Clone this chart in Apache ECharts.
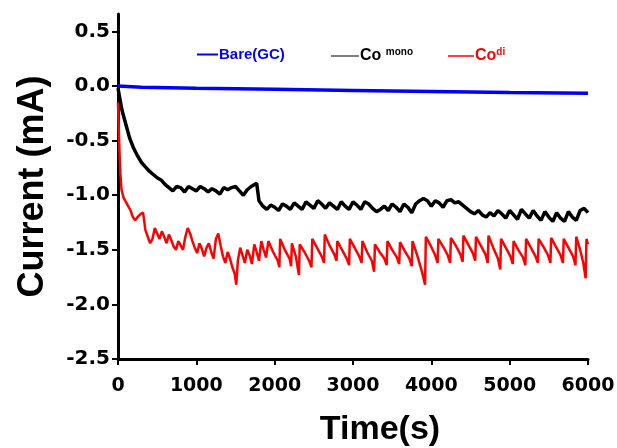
<!DOCTYPE html>
<html>
<head>
<meta charset="utf-8">
<script src="https://cdn.jsdelivr.net/npm/echarts@6/dist/echarts.min.js"></script>
<style>html,body{margin:0;padding:0;background:#fff}#c{width:617px;height:448px}</style>
</head>
<body>
<div id="c"></div>
<script>
var xTicks = [0, 1000, 2000, 3000, 4000, 5000, 6000];
var yTicks = [-2.5, -2.0, -1.5, -1.0, -0.5, 0.0, 0.5];

var bareGC = [[0,0.0],[300,-0.01],[1000,-0.02],[2000,-0.03],[3000,-0.04],[4000,-0.05],[5000,-0.06],[6000,-0.065]];

var coMono = [[0,-0.02],[20,-0.10],[50,-0.22],[100,-0.35],[150,-0.48],[200,-0.57],[250,-0.64],[300,-0.70],[350,-0.74],[400,-0.78],[450,-0.81],[500,-0.84],[550,-0.86],[600,-0.90],[650,-0.93],[700,-0.96],[750,-0.92],[800,-0.93],[850,-0.97],[900,-0.92],[950,-0.94],[1000,-0.96],[1050,-0.92],[1100,-0.94],[1150,-0.97],[1200,-0.94],[1250,-0.96],[1300,-0.99],[1350,-0.93],[1400,-0.95],[1450,-0.93],[1500,-0.92],[1550,-0.96],[1600,-1.00],[1650,-0.95],[1700,-0.92],[1770,-0.89],[1800,-1.05],[1850,-1.10],[1900,-1.13],[1950,-1.09],[2000,-1.11],[2050,-1.14],[2100,-1.08],[2150,-1.10],[2200,-1.13],[2250,-1.07],[2300,-1.10],[2350,-1.13],[2400,-1.06],[2450,-1.09],[2500,-1.12],[2550,-1.05],[2600,-1.08],[2650,-1.12],[2700,-1.07],[2750,-1.10],[2800,-1.13],[2850,-1.06],[2900,-1.10],[2950,-1.13],[3000,-1.06],[3050,-1.09],[3100,-1.13],[3150,-1.06],[3200,-1.08],[3250,-1.12],[3300,-1.15],[3350,-1.13],[3400,-1.10],[3450,-1.14],[3500,-1.08],[3550,-1.11],[3600,-1.15],[3650,-1.08],[3700,-1.11],[3750,-1.16],[3800,-1.08],[3850,-1.05],[3900,-1.03],[3950,-1.05],[4000,-1.10],[4050,-1.05],[4100,-1.07],[4150,-1.11],[4200,-1.05],[4250,-1.04],[4300,-1.07],[4350,-1.06],[4400,-1.09],[4450,-1.12],[4500,-1.15],[4550,-1.17],[4600,-1.14],[4650,-1.18],[4700,-1.20],[4750,-1.16],[4800,-1.19],[4850,-1.14],[4900,-1.17],[4950,-1.21],[5000,-1.14],[5050,-1.18],[5100,-1.22],[5150,-1.13],[5200,-1.17],[5250,-1.21],[5300,-1.14],[5350,-1.19],[5400,-1.23],[5450,-1.15],[5500,-1.20],[5550,-1.24],[5600,-1.16],[5650,-1.21],[5700,-1.24],[5750,-1.15],[5800,-1.20],[5850,-1.23],[5900,-1.14],[5950,-1.12],[6000,-1.16]];

var coDi = [[0,-0.15],[10,-0.40],[20,-0.62],[30,-0.80],[45,-0.95],[70,-1.02],[100,-1.06],[130,-1.10],[160,-1.14],[190,-1.20],[220,-1.23],[250,-1.20],[290,-1.17],[320,-1.16],[350,-1.32],[380,-1.38],[410,-1.44],[440,-1.40],[470,-1.30],[500,-1.35],[530,-1.40],[560,-1.33],[590,-1.38],[620,-1.44],[650,-1.36],[680,-1.41],[710,-1.47],[740,-1.50],[770,-1.42],[800,-1.46],[830,-1.50],[860,-1.38],[890,-1.30],[920,-1.35],[950,-1.42],[980,-1.48],[1010,-1.53],[1040,-1.44],[1070,-1.49],[1100,-1.56],[1130,-1.48],[1160,-1.44],[1190,-1.52],[1220,-1.58],[1250,-1.40],[1280,-1.35],[1310,-1.46],[1340,-1.56],[1370,-1.62],[1400,-1.52],[1430,-1.58],[1460,-1.66],[1490,-1.72],[1510,-1.82],[1530,-1.60],[1560,-1.48],[1590,-1.55],[1620,-1.62],[1650,-1.50],[1680,-1.55],[1710,-1.63],[1740,-1.45],[1770,-1.52],[1800,-1.60],[1830,-1.42],[1860,-1.50],[1890,-1.57],[1920,-1.42],[1980,-1.52],[2040,-1.60],[2060,-1.66],[2070,-1.40],[2130,-1.50],[2190,-1.58],[2210,-1.65],[2220,-1.44],[2270,-1.56],[2310,-1.73],[2320,-1.45],[2380,-1.52],[2440,-1.60],[2470,-1.66],[2480,-1.40],[2540,-1.48],[2600,-1.56],[2630,-1.62],[2640,-1.36],[2700,-1.46],[2760,-1.54],[2790,-1.60],[2800,-1.42],[2860,-1.50],[2920,-1.58],[2950,-1.64],[2960,-1.40],[3020,-1.48],[3080,-1.56],[3110,-1.62],[3120,-1.42],[3180,-1.52],[3240,-1.60],[3270,-1.70],[3280,-1.45],[3340,-1.52],[3400,-1.58],[3430,-1.64],[3440,-1.42],[3500,-1.50],[3560,-1.57],[3590,-1.63],[3600,-1.43],[3660,-1.51],[3720,-1.58],[3750,-1.65],[3760,-1.42],[3820,-1.55],[3880,-1.70],[3920,-1.82],[3930,-1.38],[3990,-1.46],[4050,-1.55],[4080,-1.62],[4090,-1.40],[4150,-1.47],[4210,-1.55],[4240,-1.62],[4250,-1.39],[4310,-1.46],[4370,-1.54],[4400,-1.61],[4410,-1.37],[4470,-1.45],[4530,-1.53],[4560,-1.60],[4570,-1.38],[4630,-1.46],[4690,-1.54],[4720,-1.62],[4730,-1.37],[4790,-1.48],[4850,-1.58],[4880,-1.68],[4890,-1.40],[4950,-1.48],[5010,-1.56],[5040,-1.63],[5050,-1.42],[5110,-1.50],[5170,-1.57],[5200,-1.64],[5210,-1.40],[5270,-1.48],[5330,-1.56],[5360,-1.62],[5370,-1.40],[5430,-1.47],[5490,-1.55],[5520,-1.62],[5530,-1.39],[5590,-1.47],[5650,-1.55],[5680,-1.62],[5690,-1.40],[5750,-1.48],[5810,-1.56],[5840,-1.64],[5850,-1.38],[5900,-1.50],[5940,-1.62],[5970,-1.76],[5980,-1.40],[6000,-1.45]];

var chart = echarts.init(document.getElementById('c'), null, {renderer: 'canvas'});
var tickFontX = {fontFamily: 'DejaVu Sans', fontWeight: 'bold', fontSize: 19, color: '#000'};
var tickFontY = {fontFamily: 'DejaVu Sans', fontWeight: 'bold', fontSize: 20, color: '#000'};
var legFont = 'Liberation Sans';

chart.setOption({
  animation: false,
  backgroundColor: '#fff',
  grid: {left: 118, right: 29, top: 14, bottom: 89, containLabel: false, outerBoundsMode: 'none'},
  legend: [
    {left: 192, top: 42, icon: 'rect', itemWidth: 21, itemHeight: 2, itemGap: 0,
     data: [{name: 'Bare(GC)', itemStyle: {color: '#0000ff'}}],
     textStyle: {color: '#0000ff', fontFamily: legFont, fontWeight: 'bold', fontSize: 15, padding: [0,0,0,-4]}},
    {left: 326, top: 42, icon: 'rect', itemWidth: 28, itemHeight: 1.5, itemGap: 0,
     data: [{name: 'Co mono', itemStyle: {color: '#555555'}}],
     formatter: function () { return '{a|Co }{s|mono}'; },
     textStyle: {color: '#000', padding: [0,0,0,-4], rich: {
       a: {fontFamily: legFont, fontWeight: 'bold', fontSize: 16, color: '#000'},
       s: {fontFamily: legFont, fontWeight: 'bold', fontSize: 10, color: '#000', verticalAlign: 'top', padding: [0,0,8,0]}
     }}},
    {left: 443, top: 42, icon: 'rect', itemWidth: 26, itemHeight: 1.5, itemGap: 0,
     data: [{name: 'Co di', itemStyle: {color: '#ff0000'}}],
     formatter: function () { return '{a|Co}{s|di}'; },
     textStyle: {color: '#ff0000', padding: [0,0,0,-4], rich: {
       a: {fontFamily: legFont, fontWeight: 'bold', fontSize: 16, color: '#ff0000'},
       s: {fontFamily: legFont, fontWeight: 'bold', fontSize: 10, color: '#ff0000', verticalAlign: 'top', padding: [0,0,8,0]}
     }}}
  ],
  xAxis: {
    type: 'value', min: 0, max: 6000, interval: 1000,
    name: 'Time(s)', nameLocation: 'middle', nameGap: 54,
    nameTextStyle: {fontFamily: 'Liberation Sans', fontWeight: 'bold', fontSize: 34, color: '#000', padding: [0,0,0,54]},
    axisLine: {show: true, onZero: false, lineStyle: {color: '#000', width: 3}},
    axisTick: {show: true, inside: false, length: 6, lineStyle: {color: '#000', width: 2}},
    axisLabel: Object.assign({margin: 18, formatter: function (v) { return String(v); }}, tickFontX),
    splitLine: {show: false}
  },
  yAxis: {
    type: 'value', min: -2.5, max: 0.66,
    name: 'Current (mA)', nameLocation: 'middle', nameGap: 67, nameRotate: 90,
    nameTextStyle: {fontFamily: 'Liberation Sans', fontWeight: 'bold', fontSize: 36, color: '#000'},
    axisLine: {show: true, onZero: false, lineStyle: {color: '#000', width: 3}},
    axisTick: {show: true, inside: false, length: 6, customValues: yTicks, lineStyle: {color: '#000', width: 2}},
    axisLabel: Object.assign({margin: 8, customValues: yTicks, formatter: function (v) { return v.toFixed(1); }}, tickFontY),
    splitLine: {show: false}
  },
  series: [
    {name: 'Bare(GC)', type: 'line', data: bareGC, showSymbol: false, symbol: 'none',
     lineStyle: {color: '#0000ff', width: 3.5}, itemStyle: {color: '#0000ff'}, z: 3},
    {name: 'Co mono', type: 'line', data: coMono, showSymbol: false, symbol: 'none',
     lineStyle: {color: '#000', width: 3.5}, itemStyle: {color: '#000'}, z: 2},
    {name: 'Co di', type: 'line', data: coDi, showSymbol: false, symbol: 'none',
     lineStyle: {color: '#ff0000', width: 2.5}, itemStyle: {color: '#ff0000'}, z: 1}
  ]
});
</script>
</body>
</html>
